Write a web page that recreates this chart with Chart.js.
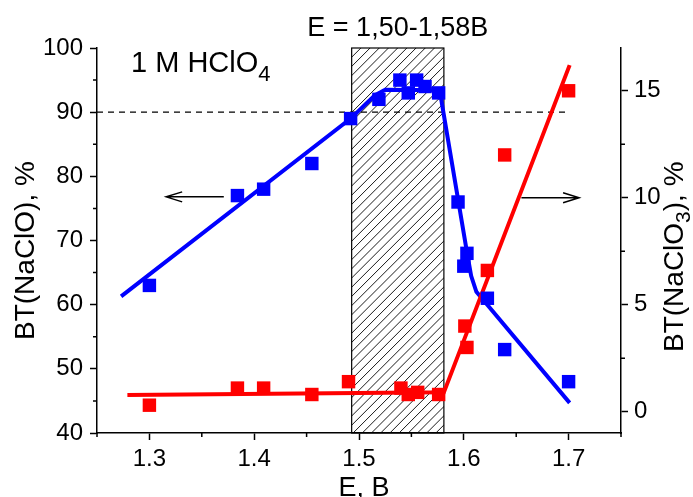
<!DOCTYPE html>
<html>
<head>
<meta charset="utf-8">
<script src="https://cdn.jsdelivr.net/npm/chart.js@4.4.1/dist/chart.umd.min.js"></script>
<style>
  html, body { margin: 0; padding: 0; background: #fff; }
  #wrap { width: 693px; height: 497px; }
</style>
</head>
<body>
<div id="wrap"><canvas id="chart" width="693" height="497"></canvas></div>
<script>
// BT(NaClO), % -- left axis
const nacloE  = [1.300, 1.384, 1.409, 1.455, 1.492, 1.519, 1.539, 1.547, 1.555, 1.563, 1.576, 1.5945, 1.600, 1.603, 1.6225, 1.639, 1.700];
const nacloBT = [63.0, 77.0, 78.0, 82.0, 89.0, 92.0, 95.0, 93.0, 95.0, 94.0, 93.0, 76.0, 66.0, 68.0, 61.0, 53.0, 48.0];
// BT(NaClO3), % -- right axis
const naclo3E  = [1.300, 1.384, 1.409, 1.455, 1.490, 1.540, 1.547, 1.556, 1.576, 1.601, 1.603, 1.6225, 1.639, 1.700];
const naclo3BT = [0.3, 1.1, 1.1, 0.8, 1.4, 1.1, 0.8, 0.9, 0.8, 4.0, 3.0, 6.6, 12.0, 15.0];

// trend lines
const nacloFitE   = [1.273, 1.492, 1.515, 1.525, 1.577, 1.603, 1.607, 1.612, 1.701];
const nacloFitBT  = [61.3, 89.0, 92.6, 93.5, 93.4, 68.2, 64.5, 62.0, 44.7];
const naclo3FitE  = [1.279, 1.581, 1.701];
const naclo3FitBT = [0.78, 0.9, 16.2];

// 90 % level and working potential window
const levelE = [1.25, 1.70];
const levelBT = [90, 90];
const windowE = [1.493, 1.581];
const windowLabel = 'E = 1,50-1,58B';

// axis ticks
const xTicks = [1.3, 1.4, 1.5, 1.6, 1.7];
const xMinor = [1.25, 1.35, 1.45, 1.55, 1.65, 1.75];
const yTicks = [40, 50, 60, 70, 80, 90, 100];
const yMinor = [45, 55, 65, 75, 85, 95];
const y2Ticks = [0, 5, 10, 15];
const y2Minor = [2.5, 7.5, 12.5];

const FONT = '"Liberation Sans", Arial, sans-serif';
const BLUE = '#0000ff';
const RED = '#ff0000';

function pts(xs, ys) { return xs.map((x, i) => ({ x: x, y: ys[i] })); }

const decorations = {
  id: 'decorations',
  beforeDatasetsDraw(chart) {
    const { ctx, chartArea, scales } = chart;
    const x0 = scales.x.getPixelForValue(windowE[0]);
    const x1 = scales.x.getPixelForValue(windowE[1]);
    const top = chartArea.top, bot = chartArea.bottom, h = bot - top;
    ctx.save();
    ctx.beginPath();
    ctx.rect(x0, top, x1 - x0, h);
    ctx.clip();
    ctx.strokeStyle = '#000';
    ctx.lineWidth = 0.9;
    ctx.beginPath();
    for (let k = x0 - h; k < x1 + 10; k += 9.2) {
      ctx.moveTo(k, bot);
      ctx.lineTo(k + h, top);
    }
    ctx.stroke();
    ctx.restore();
    ctx.save();
    ctx.strokeStyle = '#000';
    ctx.lineWidth = 1.2;
    ctx.strokeRect(x0, top, x1 - x0, h);
    ctx.restore();
  },
  afterDraw(chart) {
    const { ctx, chartArea, scales } = chart;
    const xs = scales.x, ys = scales.y, y2s = scales.y2;
    ctx.save();
    ctx.strokeStyle = '#000';
    ctx.fillStyle = '#000';
    ctx.lineWidth = 1.5;

    // minor ticks
    ctx.beginPath();
    xMinor.forEach(v => { const p = xs.getPixelForValue(v); ctx.moveTo(p, chartArea.bottom); ctx.lineTo(p, chartArea.bottom + 4); });
    yMinor.forEach(v => { const p = ys.getPixelForValue(v); ctx.moveTo(chartArea.left, p); ctx.lineTo(chartArea.left - 4, p); });
    y2Minor.forEach(v => { const p = y2s.getPixelForValue(v); ctx.moveTo(chartArea.right, p); ctx.lineTo(chartArea.right + 4, p); });
    ctx.stroke();

    // arrows pointing to each curve's axis
    function arrow(xa, xb, y) {
      const dir = Math.sign(xb - xa);
      ctx.beginPath();
      ctx.moveTo(xa, y); ctx.lineTo(xb, y);
      ctx.moveTo(xb - dir * 16, y - 5); ctx.lineTo(xb, y); ctx.lineTo(xb - dir * 16, y + 5);
      ctx.stroke();
    }
    arrow(xs.getPixelForValue(1.371), xs.getPixelForValue(1.316), ys.getPixelForValue(76.8));
    arrow(xs.getPixelForValue(1.655), xs.getPixelForValue(1.710), y2s.getPixelForValue(10));

    // labels
    ctx.textBaseline = 'alphabetic';
    ctx.textAlign = 'center';
    ctx.font = '27px ' + FONT;
    const wc = (xs.getPixelForValue(windowE[0]) + xs.getPixelForValue(windowE[1])) / 2;
    ctx.fillText(windowLabel, wc, chartArea.top - 12);
    ctx.fillText('E, B', 364, 496);

    ctx.textAlign = 'left';
    ctx.font = '29px ' + FONT;
    const sx = chartArea.left + 34, sy = chartArea.top + 24;
    ctx.fillText('1 M HClO', sx, sy);
    const w1 = ctx.measureText('1 M HClO').width;
    ctx.font = '22px ' + FONT;
    ctx.fillText('4', sx + w1, sy + 9);

    // left axis title
    ctx.save();
    ctx.translate(33.5, 340);
    ctx.rotate(-Math.PI / 2);
    ctx.font = '28px ' + FONT;
    ctx.fillText('BT(NaClO), %', 0, 0);
    ctx.restore();

    // right axis title with subscript
    ctx.save();
    ctx.translate(683, 352);
    ctx.rotate(-Math.PI / 2);
    ctx.font = '28px ' + FONT;
    let tx = 0;
    ctx.fillText('BT(NaClO', tx, 0);
    tx += ctx.measureText('BT(NaClO').width;
    ctx.font = '21px ' + FONT;
    ctx.fillText('3', tx, 7);
    tx += ctx.measureText('3').width;
    ctx.font = '28px ' + FONT;
    ctx.fillText('), %', tx, 0);
    ctx.restore();

    ctx.restore();
  }
};

const tickFont = { family: FONT, size: 24 };
const axisGrid = { display: true, drawOnChartArea: false, drawTicks: true, tickLength: 7, tickWidth: 1.5, tickColor: '#000' };
const axisBorder = { display: true, color: '#000', width: 1.5 };

new Chart(document.getElementById('chart'), {
  type: 'scatter',
  data: {
    datasets: [
      { data: pts(nacloE, nacloBT), yAxisID: 'y', pointStyle: 'rect', pointRadius: 9.5, pointBorderWidth: 0, backgroundColor: BLUE, borderColor: BLUE, showLine: false },
      { data: pts(naclo3E, naclo3BT), yAxisID: 'y2', pointStyle: 'rect', pointRadius: 9.5, pointBorderWidth: 0, backgroundColor: RED, borderColor: RED, showLine: false },
      { data: pts(naclo3FitE, naclo3FitBT), yAxisID: 'y2', showLine: true, pointRadius: 0, borderColor: RED, borderWidth: 4, tension: 0 },
      { data: pts(nacloFitE, nacloFitBT), yAxisID: 'y', showLine: true, pointRadius: 0, borderColor: BLUE, borderWidth: 4, tension: 0 },
      { data: pts(levelE, levelBT), yAxisID: 'y', showLine: true, pointRadius: 0, borderColor: '#000', borderWidth: 1.3, borderDash: [6, 5] }
    ]
  },
  options: {
    responsive: false,
    devicePixelRatio: 1,
    animation: false,
    layout: { padding: { top: 48, left: 0, right: 0, bottom: 0 } },
    plugins: { legend: { display: false }, tooltip: { enabled: false } },
    scales: {
      x: {
        type: 'linear', min: 1.25, max: 1.75,
        afterBuildTicks: s => { s.ticks = xTicks.map(v => ({ value: v })); },
        afterFit: s => { s.height = 64; },
        ticks: { font: tickFont, color: '#000', padding: 5, maxRotation: 0, callback: v => v.toFixed(1) },
        grid: axisGrid, border: axisBorder
      },
      y: {
        type: 'linear', position: 'left', min: 40, max: 100,
        afterBuildTicks: s => { s.ticks = yTicks.map(v => ({ value: v })); },
        afterFit: s => { s.width = 97; },
        ticks: { font: tickFont, color: '#000', padding: 7 },
        grid: axisGrid, border: axisBorder
      },
      y2: {
        type: 'linear', position: 'right', min: -1, max: 17,
        afterBuildTicks: s => { s.ticks = y2Ticks.map(v => ({ value: v })); },
        afterFit: s => { s.width = 72; },
        ticks: { font: tickFont, color: '#000', padding: 6 },
        grid: axisGrid, border: axisBorder
      }
    }
  },
  plugins: [decorations]
});
</script>
</body>
</html>
